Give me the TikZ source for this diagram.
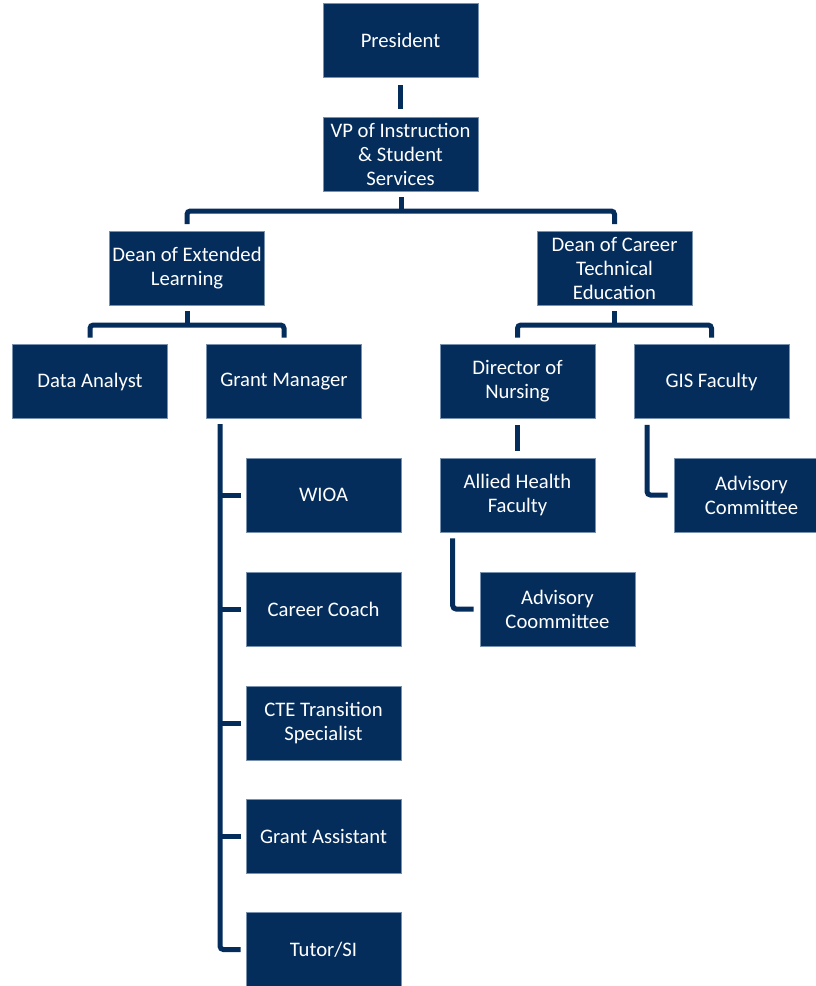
\documentclass[tikz,border=0pt]{standalone}
\usepackage{fontspec}
\setmainfont{Carlito}
\definecolor{navy}{RGB}{4,45,92}
\definecolor{edge}{RGB}{120,145,175}
\begin{document}
\begin{tikzpicture}[x=0.75pt,y=-0.75pt,
  box/.style={fill=navy,draw=edge,line width=0.4pt,minimum width=116.25pt,minimum height=55.5pt,
    inner sep=0pt,align=center,text=white,font=\fontsize{15.5}{18}\selectfont},
  conn/.style={draw=navy,line width=3.75pt,rounded corners=2.5pt}]
\useasboundingbox (0,0) rectangle (816,986);
\fill[white] (0,0) rectangle (816,986);
\node[box] (pres) at (400.5,40) {President};
\node[box] (vp) at (400.5,154) {VP of Instruction\\ \& Student\\ Services};
\node[box] (dext) at (187,268) {Dean of Extended\\ Learning};
\node[box] (dcte) at (614.5,268) {Dean of Career\\ Technical\\ Education};
\node[box] (da) at (90,381.5) {Data Analyst};
\node[box] (gm) at (284,381.5) {Grant Manager};
\node[box] (don) at (517.5,381.5) {Director of\\ Nursing};
\node[box] (gis) at (711.5,381.5) {GIS Faculty};
\node[box] (wioa) at (323.5,495) {WIOA};
\node[box] (cc) at (323.5,609) {Career Coach};
\node[box] (cte) at (323.5,723) {CTE Transition\\ Specialist};
\node[box] (ga) at (323.5,836) {Grant Assistant};
\node[box] (tutor) at (323.5,949.5) {Tutor/SI};
\node[box] (allied) at (517.5,495) {Allied Health\\ Faculty};
\node[box] (adv1) at (557.5,609) {Advisory\\ Coommittee};
\node[box] (adv2) at (751.5,495) {Advisory\\ Committee};
% connectors
\draw[conn] ([yshift=-6pt]pres.south) -- ([yshift=6pt]vp.north);
\coordinate (bus1) at (401,211);
\draw[conn] ([yshift=-4.5pt]vp.south -| bus1) -- (bus1);
\draw[conn] ([yshift=5pt]dext.north) |- (bus1) -| ([yshift=5pt]dcte.north);
\coordinate (bus2) at (187,325);
\draw[conn] ([yshift=-4.5pt]dext.south) -- (bus2);
\draw[conn] ([yshift=5pt]da.north) |- (bus2) -| ([yshift=5pt]gm.north);
\coordinate (bus3) at (614.5,325);
\draw[conn] ([yshift=-4.5pt]dcte.south) -- (bus3);
\draw[conn] ([yshift=5pt]don.north) |- (bus3) -| ([yshift=5pt]gis.north);
\coordinate (gmtop) at (220,424);
\draw[conn] (gmtop) |- ([xshift=-3.75pt]tutor.west);
\draw[conn] (gmtop |- wioa.west) -- ([xshift=-3.75pt]wioa.west);
\draw[conn] (gmtop |- cc.west) -- ([xshift=-3.75pt]cc.west);
\draw[conn] (gmtop |- cte.west) -- ([xshift=-3.75pt]cte.west);
\draw[conn] (gmtop |- ga.west) -- ([xshift=-3.75pt]ga.west);
\draw[conn] ([yshift=-5pt]don.south) -- ([yshift=5pt]allied.north);
\draw[conn] ([xshift=9.75pt,yshift=-4.5pt]allied.south west) |- ([xshift=-4.5pt]adv1.west);
\draw[conn] ([xshift=10pt,yshift=-4.5pt]gis.south west) |- ([xshift=-4.5pt]adv2.west);
\end{tikzpicture}
\end{document}
